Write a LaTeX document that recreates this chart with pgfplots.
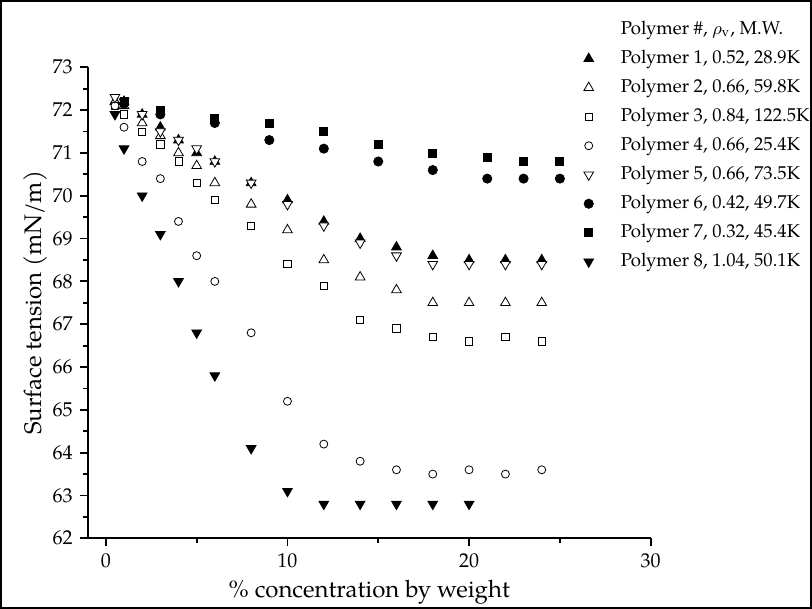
\documentclass[border=0pt]{standalone}
\usepackage{fontspec}
\setmainfont{TeX Gyre Pagella}
\usepackage{pgfplots}
\pgfplotsset{compat=1.18}

% marker-only series with a compact legend image
\pgfplotsset{
  pt/.style={only marks, mark options={solid, line width=0.5pt},
    legend image code/.code={\draw[mark repeat=2,mark phase=2,##1]
      plot coordinates {(0pt,0pt)(4pt,0pt)(8pt,0pt)};}},
}

\begin{document}
\begin{tikzpicture}
\useasboundingbox (-43.85pt,-35.35pt) rectangle (362.15pt,269.15pt);
\begin{axis}[
  at={(0pt,0pt)}, anchor=south west,
  width=281.5pt, height=235.5pt, scale only axis,
  xmin=-1, xmax=30, ymin=62, ymax=73,
  axis x line=bottom, axis y line=left,
  axis line style={-, line width=0.9pt},
  tick align=outside,
  major tick length=4pt, minor tick length=2.2pt,
  every tick/.style={black, line width=0.9pt},
  xtick={0,10,20,30}, minor xtick={5,15,25},
  ytick={62,63,...,73}, minor ytick={62.5,63.5,...,72.5},
  /pgf/number format/assume math mode=true,
  ticklabel style={font=\fontsize{10}{12}\selectfont},
  xlabel={\% concentration by weight},
  ylabel={Surface tension (mN/m)},
  label style={font=\fontsize{12}{14}\selectfont},
  xlabel style={at={(axis description cs:0.5,0)}, anchor=base, yshift=-29.5pt},
  ylabel style={at={(axis description cs:-0.092,0.5)}, anchor=center},
  legend style={at={(axis description cs:0.875,1.105)}, anchor=north west,
    draw=none, fill=none, inner sep=0pt, row sep=3pt, column sep=12.6pt,
    font=\fontsize{9.3}{11}\selectfont,
    nodes={inner sep=1pt, text height=7pt, text depth=2.5pt}},
  legend cell align=left,
]
\addlegendimage{empty legend}
\addlegendentry{Polymer \#, $\rho_{\mathrm{v}}$, M.W.}

% Polymer 1
\addplot[pt, mark=triangle*, mark size=2.8pt, mark options={fill=black}] coordinates {
  (0.5,72.2) (1,72.2) (2,71.9) (3,71.6) (4,71.3) (5,71.0) (6,70.8) (8,70.3)
  (10,69.9) (12,69.4) (14,69.0) (16,68.8) (18,68.6) (20,68.5) (22,68.5) (24,68.5)};
\addlegendentry{Polymer 1, 0.52, 28.9K}
% Polymer 2
\addplot[pt, mark=triangle*, mark size=2.8pt, mark options={fill=white}] coordinates {
  (0.5,72.2) (1,72.1) (2,71.7) (3,71.4) (4,71.0) (5,70.7) (6,70.3) (8,69.8)
  (10,69.2) (12,68.5) (14,68.1) (16,67.8) (18,67.5) (20,67.5) (22,67.5) (24,67.5)};
\addlegendentry{Polymer 2, 0.66, 59.8K}
% Polymer 3
\addplot[pt, mark=square*, mark size=1.8pt, mark options={fill=white}] coordinates {
  (0.5,72.1) (1,71.9) (2,71.5) (3,71.2) (4,70.8) (5,70.3) (6,69.9) (8,69.3)
  (10,68.4) (12,67.9) (14,67.1) (16,66.9) (18,66.7) (20,66.6) (22,66.7) (24,66.6)};
\addlegendentry{Polymer 3, 0.84, 122.5K}
% Polymer 4
\addplot[pt, mark=*, mark size=2pt, mark options={fill=white}] coordinates {
  (0.5,72.1) (1,71.6) (2,70.8) (3,70.4) (4,69.4) (5,68.6) (6,68.0) (8,66.8)
  (10,65.2) (12,64.2) (14,63.8) (16,63.6) (18,63.5) (20,63.6) (22,63.5) (24,63.6)};
\addlegendentry{Polymer 4, 0.66, 25.4K}
% Polymer 5
\addplot[pt, mark=triangle*, mark size=2.8pt, mark options={fill=white, rotate=180}] coordinates {
  (0.5,72.3) (1,72.2) (2,71.9) (3,71.5) (4,71.3) (5,71.1) (6,70.8) (8,70.3)
  (10,69.8) (12,69.3) (14,68.9) (16,68.6) (18,68.4) (20,68.4) (22,68.4) (24,68.4)};
\addlegendentry{Polymer 5, 0.66, 73.5K}
% Polymer 6
\addplot[pt, mark=*, mark size=2.3pt, mark options={fill=black}] coordinates {
  (1,72.15) (3,71.9) (6,71.7) (9,71.3) (12,71.1) (15,70.8) (18,70.6) (21,70.4) (23,70.4) (25,70.4)};
\addlegendentry{Polymer 6, 0.42, 49.7K}
% Polymer 7
\addplot[pt, mark=square*, mark size=2pt, mark options={fill=black}] coordinates {
  (1,72.2) (3,72.0) (6,71.8) (9,71.7) (12,71.5) (15,71.2) (18,71.0) (21,70.9) (23,70.8) (25,70.8)};
\addlegendentry{Polymer 7, 0.32, 45.4K}
% Polymer 8
\addplot[pt, mark=triangle*, mark size=2.8pt, mark options={fill=black, rotate=180}] coordinates {
  (0.5,71.9) (1,71.1) (2,70.0) (3,69.1) (4,68.0) (5,66.8) (6,65.8) (8,64.1)
  (10,63.1) (12,62.8) (14,62.8) (16,62.8) (18,62.8) (20,62.8)};
\addlegendentry{Polymer 8, 1.04, 50.1K}
\end{axis}
\draw[line width=1pt] (-43.35pt,-34.85pt) rectangle (361.65pt,268.65pt);
\end{tikzpicture}
\end{document}
